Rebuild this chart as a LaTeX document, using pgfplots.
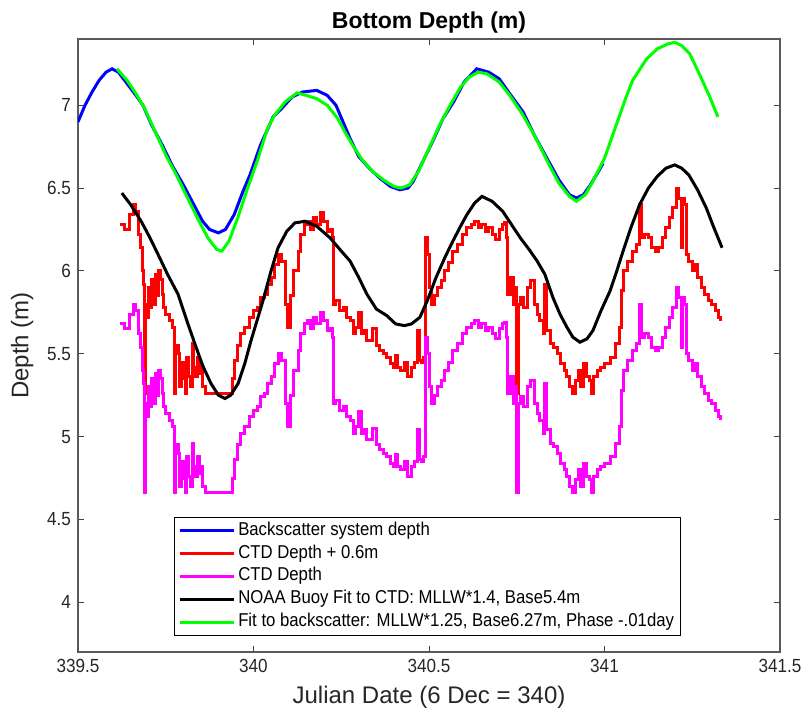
\documentclass[border=0pt]{standalone}
\usepackage{fontspec}
\setmainfont{Liberation Sans}
\newfontfamily\narrowfont{Liberation Sans}[FakeStretch=0.9]
\usepackage{pgfplots}
\pgfplotsset{compat=1.18}
\usepackage{pgfplotstable}
\usetikzlibrary{calc}
\definecolor{mblue}{RGB}{0,0,255}
\definecolor{mred}{RGB}{255,0,0}
\definecolor{mmag}{RGB}{255,0,255}
\definecolor{mgreen}{RGB}{0,255,0}

% backscatter system depth
\pgfplotstableread{
x d
339.500 6.90
339.520 7.00
339.540 7.08
339.560 7.15
339.580 7.20
339.597 7.22
339.615 7.20
339.640 7.13
339.665 7.06
339.685 7.00
339.710 6.88
339.740 6.76
339.770 6.63
339.800 6.52
339.830 6.40
339.855 6.30
339.875 6.25
339.900 6.23
339.920 6.25
339.945 6.34
339.970 6.48
339.990 6.58
340.020 6.76
340.056 6.93
340.080 6.98
340.110 7.05
340.140 7.08
340.180 7.09
340.210 7.06
340.235 7.00
340.255 6.90
340.275 6.80
340.300 6.69
340.330 6.62
340.360 6.56
340.390 6.51
340.417 6.49
340.440 6.50
340.455 6.54
340.480 6.65
340.510 6.78
340.540 6.92
340.570 7.02
340.600 7.14
340.636 7.22
340.670 7.20
340.700 7.16
340.730 7.07
340.768 6.96
340.800 6.82
340.836 6.68
340.870 6.55
340.900 6.46
340.920 6.44
340.940 6.46
340.960 6.52
340.980 6.59
340.996 6.65
}\backscatter

% CTD depth + 0.6m (r) and CTD depth (m)
\pgfplotstableread{
x r m
339.620 6.28 5.68
339.630 6.28 5.68
339.632 6.25 5.65
339.645 6.25 5.65
339.647 6.34 5.74
339.655 6.34 5.74
339.657 6.40 5.80
339.665 6.36 5.76
339.672 6.22 5.62
339.677 6.14 5.54
339.683 6.00 5.40
339.688 5.92 5.32
339.690 5.26 4.66
339.692 5.80 5.20
339.697 5.72 5.12
339.700 5.90 5.30
339.705 5.78 5.18
339.710 5.95 5.35
339.715 5.80 5.20
339.720 5.98 5.38
339.725 5.85 5.25
339.730 6.00 5.40
339.735 5.95 5.35
339.740 5.86 5.26
339.745 5.78 5.18
339.750 5.74 5.14
339.760 5.70 5.10
339.770 5.66 5.06
339.775 5.26 4.66
339.778 5.55 4.95
339.785 5.50 4.90
339.790 5.30 4.70
339.795 5.45 4.85
339.800 5.35 4.75
339.805 5.26 4.66
339.810 5.48 4.88
339.815 5.36 4.76
339.820 5.30 4.70
339.825 5.56 4.96
339.830 5.42 4.82
339.835 5.36 4.76
339.840 5.48 4.88
339.845 5.38 4.78
339.850 5.42 4.82
339.855 5.30 4.70
339.862 5.26 4.66
339.936 5.26 4.66
339.940 5.35 4.75
339.947 5.46 4.86
339.955 5.55 4.95
339.962 5.62 5.02
339.975 5.66 5.06
339.990 5.72 5.12
340.000 5.76 5.16
340.010 5.78 5.18
340.020 5.84 5.24
340.030 5.86 5.26
340.040 5.92 5.32
340.050 5.96 5.36
340.060 6.04 5.44
340.070 6.10 5.50
340.080 6.06 5.46
340.090 5.80 5.20
340.098 5.66 5.06
340.105 5.85 5.25
340.115 6.00 5.40
340.127 6.12 5.52
340.135 6.22 5.62
340.145 6.28 5.68
340.155 6.30 5.70
340.162 6.25 5.65
340.170 6.32 5.72
340.180 6.28 5.68
340.190 6.35 5.75
340.200 6.30 5.70
340.210 6.24 5.64
340.220 6.25 5.65
340.225 6.20 5.60
340.228 5.80 5.20
340.235 5.82 5.22
340.245 5.76 5.16
340.255 5.78 5.18
340.265 5.72 5.12
340.275 5.70 5.10
340.284 5.62 5.02
340.292 5.66 5.06
340.300 5.75 5.15
340.308 5.62 5.02
340.315 5.64 5.04
340.322 5.58 4.98
340.330 5.58 4.98
340.340 5.65 5.05
340.350 5.55 4.95
340.360 5.52 4.92
340.370 5.50 4.90
340.380 5.48 4.88
340.390 5.44 4.84
340.400 5.42 4.82
340.405 5.49 4.89
340.410 5.42 4.82
340.420 5.40 4.80
340.430 5.45 4.85
340.440 5.36 4.76
340.450 5.42 4.82
340.460 5.45 4.85
340.468 5.64 5.04
340.472 5.46 4.86
340.480 5.45 4.85
340.485 5.48 4.88
340.489 6.20 5.60
340.495 6.10 5.50
340.500 5.90 5.30
340.508 5.80 5.20
340.515 5.85 5.25
340.525 5.90 5.30
340.535 5.94 5.34
340.545 6.00 5.40
340.555 6.05 5.45
340.568 6.12 5.52
340.580 6.16 5.56
340.595 6.22 5.62
340.608 6.26 5.66
340.620 6.28 5.68
340.630 6.30 5.70
340.640 6.26 5.66
340.650 6.28 5.68
340.660 6.24 5.64
340.670 6.26 5.66
340.680 6.22 5.62
340.690 6.19 5.59
340.700 6.25 5.65
340.710 6.28 5.68
340.716 6.29 5.69
340.722 6.20 5.60
340.725 5.86 5.26
340.732 5.96 5.36
340.740 5.80 5.20
340.746 5.90 5.30
340.750 5.26 4.66
340.754 5.80 5.20
340.760 5.84 5.24
340.770 5.78 5.18
340.780 5.90 5.30
340.790 5.94 5.34
340.800 5.80 5.20
340.810 5.74 5.14
340.816 5.70 5.10
340.825 5.62 5.02
340.830 5.92 5.32
340.836 5.64 5.04
340.845 5.56 4.96
340.855 5.54 4.94
340.865 5.50 4.90
340.875 5.44 4.84
340.885 5.40 4.80
340.893 5.36 4.76
340.900 5.30 4.70
340.910 5.26 4.66
340.918 5.34 4.74
340.925 5.40 4.80
340.932 5.30 4.70
340.940 5.44 4.84
340.950 5.36 4.76
340.957 5.34 4.74
340.964 5.26 4.66
340.970 5.36 4.76
340.980 5.40 4.80
340.990 5.42 4.82
341.000 5.44 4.84
341.016 5.48 4.88
341.030 5.56 4.96
341.044 5.66 5.06
341.048 5.88 5.28
341.053 6.00 5.40
341.065 6.06 5.46
341.080 6.12 5.52
341.090 6.16 5.56
341.100 6.40 5.80
341.105 6.20 5.60
341.115 6.22 5.62
341.125 6.20 5.60
341.135 6.14 5.54
341.145 6.12 5.52
341.155 6.14 5.54
341.165 6.20 5.60
341.175 6.26 5.66
341.185 6.32 5.72
341.195 6.38 5.78
341.206 6.50 5.90
341.212 6.44 5.84
341.218 6.14 5.54
341.222 6.44 5.84
341.228 6.40 5.80
341.235 6.10 5.50
341.240 6.06 5.46
341.250 6.00 5.40
341.258 6.04 5.44
341.265 5.96 5.36
341.275 5.90 5.30
341.285 5.86 5.26
341.295 5.82 5.22
341.305 5.80 5.20
341.315 5.76 5.16
341.325 5.72 5.12
341.330 5.70 5.10
}\ctd

% NOAA buoy fit
\pgfplotstableread{
x d
339.625 6.47
339.650 6.40
339.680 6.30
339.705 6.20
339.728 6.10
339.755 5.98
339.785 5.86
339.810 5.70
339.833 5.56
339.855 5.43
339.879 5.32
339.900 5.25
339.919 5.23
339.935 5.25
339.956 5.32
339.975 5.44
339.993 5.58
340.010 5.70
340.027 5.82
340.050 6.00
340.070 6.14
340.095 6.24
340.118 6.29
340.147 6.30
340.180 6.27
340.218 6.20
340.250 6.12
340.275 6.06
340.300 5.96
340.323 5.86
340.350 5.77
340.380 5.73
340.405 5.68
340.430 5.67
340.450 5.68
340.474 5.72
340.495 5.82
340.520 5.96
340.545 6.08
340.568 6.18
340.590 6.27
340.608 6.34
340.630 6.41
340.651 6.45
340.680 6.42
340.710 6.36
340.735 6.28
340.760 6.20
340.785 6.13
340.808 6.06
340.830 5.98
340.853 5.84
340.873 5.74
340.893 5.66
340.910 5.60
340.930 5.57
340.950 5.59
340.967 5.64
340.990 5.76
341.016 5.88
341.035 6.00
341.053 6.12
341.075 6.26
341.100 6.40
341.125 6.50
341.150 6.57
341.175 6.62
341.200 6.64
341.220 6.62
341.240 6.58
341.265 6.49
341.290 6.38
341.310 6.27
341.335 6.14
}\noaa

% fit to backscatter
\pgfplotstableread{
x d
339.611 7.22
339.640 7.15
339.665 7.07
339.690 6.98
339.720 6.84
339.750 6.70
339.780 6.58
339.810 6.45
339.840 6.32
339.870 6.20
339.895 6.13
339.910 6.12
339.930 6.18
339.955 6.32
339.980 6.48
340.010 6.66
340.040 6.86
340.060 6.94
340.090 7.02
340.124 7.075
340.150 7.06
340.180 7.04
340.210 7.00
340.240 6.92
340.260 6.84
340.285 6.75
340.310 6.67
340.340 6.60
340.370 6.55
340.400 6.51
340.420 6.50
340.445 6.52
340.470 6.60
340.500 6.74
340.530 6.88
340.560 7.00
340.590 7.11
340.615 7.17
340.640 7.20
340.665 7.19
340.700 7.14
340.730 7.06
340.765 6.95
340.800 6.82
340.840 6.65
340.870 6.53
340.900 6.45
340.920 6.42
340.945 6.46
340.967 6.54
341.000 6.68
341.035 6.89
341.060 7.04
341.080 7.15
341.120 7.28
341.150 7.34
341.180 7.37
341.200 7.38
341.220 7.36
341.243 7.31
341.270 7.19
341.300 7.05
341.323 6.93
}\fitbs

\begin{document}
\begin{tikzpicture}
\begin{axis}[
  width=351pt, height=306.5pt, scale only axis,
  xmin=339.5, xmax=341.5, ymin=3.7, ymax=7.4,
  xtick={339.5,340,340.5,341,341.5},
  xticklabels={339.5,340,340.5,341,341.5},
  ytick={4,4.5,5,5.5,6,6.5,7},
  yticklabels={4,4.5,5,5.5,6,6.5,7},
  scaled x ticks=false,
  tick label style={font=\narrowfont\fontsize{9.5}{11}\selectfont, text=black!85},
  axis line style={black!65, line width=0.6pt},
  major tick style={black!75, line width=0.5pt},
  major tick length=3pt,
  xlabel={Julian Date (6 Dec = 340)},
  ylabel={Depth (m)},
  label style={font=\fontsize{12}{14}\selectfont, text=black!85},
  title={Bottom Depth (m)},
  title style={font=\bfseries\fontsize{11.5}{13}\selectfont, at={(0.5,1)}, anchor=base, yshift=-1pt},
  legend cell align=left,
  legend image code/.code={\draw[#1] (0pt,0pt) -- (27pt,0pt);},
  legend style={at={(0.137,0.026)}, anchor=south west, draw=black, line width=0.5pt,
    font=\narrowfont\fontsize{9.3}{10}\selectfont, inner xsep=2pt, inner ysep=1pt, row sep=0pt,
    nodes={inner sep=1.3pt, text height=6.6pt, text depth=2.2pt}},
]
\addplot[color=mblue, line width=1.5pt] table[x=x, y=d] {\backscatter};
\addlegendentry{Backscatter system depth}
\addplot[color=mred, line width=1.5pt, const plot] table[x=x, y=r] {\ctd};
\addlegendentry{CTD Depth + 0.6m}
\addplot[color=mmag, line width=1.5pt, const plot] table[x=x, y=m] {\ctd};
\addlegendentry{CTD Depth}
\addplot[color=black, line width=1.5pt] table[x=x, y=d] {\noaa};
\addlegendentry{NOAA Buoy Fit to CTD: MLLW*1.4, Base5.4m}
\addplot[color=mgreen, line width=1.5pt] table[x=x, y=d] {\fitbs};
\addlegendentry{Fit to backscatter: MLLW*1.25, Base6.27m, Phase -.01day}
\end{axis}
\pgfresetboundingbox
\path[use as bounding box] ($(current axis.south west)+(-39pt,-32.5pt)$) rectangle ($(current axis.north east)+(14.5pt,19.5pt)$);
\end{tikzpicture}
\end{document}
